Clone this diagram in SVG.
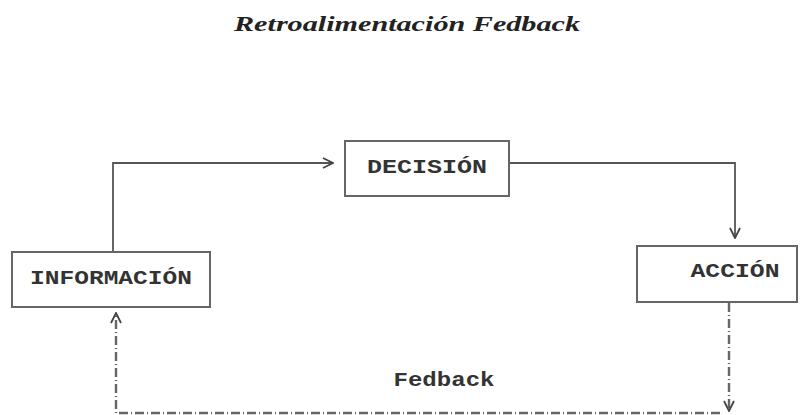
<svg xmlns="http://www.w3.org/2000/svg" width="800" height="415" viewBox="0 0 800 415">
<defs>
<marker id="arr" viewBox="0 0 12 12" refX="11" refY="6" markerWidth="12" markerHeight="12" markerUnits="userSpaceOnUse" orient="auto">
<path d="M1,1 L11,6 L1,11" fill="none" stroke="#444" stroke-width="1.8"/>
</marker>
</defs>
<style>
.box{fill:#fff;stroke:#666;stroke-width:2}
.lbl{font-family:"Liberation Mono","Courier New",monospace;font-weight:bold;font-size:20px;fill:#333;text-anchor:middle;dominant-baseline:central}
.ln{fill:none;stroke:#555;stroke-width:1.8}
.dash{fill:none;stroke:#666;stroke-width:2.4;stroke-dasharray:9 3 1 3}
</style>
<rect width="800" height="415" fill="#fff"/>
<text x="407" y="31" font-family="'Liberation Serif','Times New Roman',serif" font-weight="bold" font-style="italic" font-size="21" fill="#222" text-anchor="middle" textLength="346" lengthAdjust="spacingAndGlyphs">Retroalimentación Fedback</text>
<g id="connectors">
<polyline class="ln" points="113,252 113,163 333,163" marker-end="url(#arr)"/>
<polyline class="ln" points="509,163 735,163 735,238" marker-end="url(#arr)"/>
<polyline class="dash" points="729,303 729,411" marker-end="url(#arr)"/>
<polyline class="dash" points="720,413 116,413 116,313" marker-end="url(#arr)"/>
</g>
<g id="informacion">
<rect class="box" x="12" y="252" width="198" height="55"/>
<text class="lbl" x="111" y="278" textLength="162" lengthAdjust="spacingAndGlyphs">INFORMACIÓN</text>
</g>
<g id="decision">
<rect class="box" x="345" y="141" width="164" height="55"/>
<text class="lbl" x="427" y="167" textLength="120" lengthAdjust="spacingAndGlyphs">DECISIÓN</text>
</g>
<g id="accion">
<rect class="box" x="637" y="246" width="160" height="56"/>
<text class="lbl" x="735" y="271" textLength="89" lengthAdjust="spacingAndGlyphs">ACCIÓN</text>
</g>
<text class="lbl" x="444" y="380" textLength="101" lengthAdjust="spacingAndGlyphs">Fedback</text>
</svg>
